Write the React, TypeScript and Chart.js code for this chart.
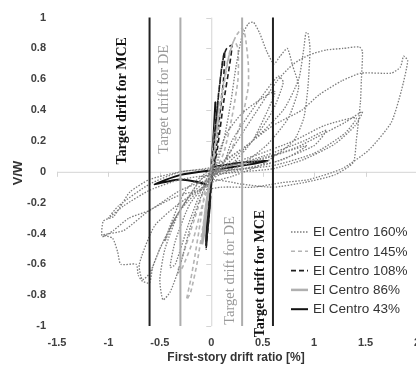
import React, { useEffect, useRef } from "react";
import { Chart, registerables } from "chart.js";
Chart.register(...registerables);

// Axis ticks
const xTicks = [-1.5, -1, -0.5, 0, 0.5, 1, 1.5, 2];
const yTicks = [1, 0.8, 0.6, 0.4, 0.2, 0, -0.2, -0.4, -0.6, -0.8, -1];

// Target drift ratios
const targetMCE = 0.6;
const targetDE = 0.3;

const seriesNames = ["El Centro 160%", "El Centro 145%", "El Centro 108%", "El Centro 86%", "El Centro 43%"];

// El Centro 160% (dotted)
const elCentro160: [number, number][] = [
  [0, 0], [0.15, 0.25], [0.3, 0.38], [0.5, 0.48], [0.62, 0.52], [0.55, 0.4], [0.4, 0.2], [0.2, 0.05], [0, -0.03],
  [-0.2, -0.15], [-0.35, -0.3], [-0.45, -0.45], [-0.4, -0.35], [-0.25, -0.12], [0, 0.02],
  [0.05, 0.05], [0.12, 0.2], [0.19, 0.45], [0.24, 0.68], [0.3, 0.88], [0.36, 0.96], [0.41, 0.97], [0.47, 0.9],
  [0.54, 0.78], [0.61, 0.7], [0.67, 0.75], [0.74, 0.8], [0.79, 0.69], [0.85, 0.55], [0.75, 0.35], [0.55, 0.18],
  [0.3, 0.05], [0, -0.05], [-0.3, -0.25], [-0.45, -0.5], [-0.5, -0.7], [-0.47, -0.83], [-0.4, -0.78],
  [-0.3, -0.6], [-0.2, -0.35], [-0.05, -0.08], [0.1, 0.05],
  [0.4, 0.2], [0.7, 0.4], [0.85, 0.6], [0.9, 0.8], [0.92, 0.9], [0.94, 0.9], [0.96, 0.8], [0.94, 0.55],
  [0.9, 0.35], [0.8, 0.2], [0.5, 0.05], [0.2, -0.03], [0, -0.07], [-0.3, -0.2], [-0.55, -0.35], [-0.7, -0.6],
  [-0.67, -0.7], [-0.6, -0.66], [-0.5, -0.5], [-0.35, -0.3], [-0.1, -0.05], [0.1, 0.05],
  [0.35, 0.3], [0.64, 0.59], [0.8, 0.7], [0.96, 0.76], [1.12, 0.79], [1.28, 0.8], [1.44, 0.81], [1.47, 0.78],
  [1.46, 0.6], [1.45, 0.45], [1.41, 0.2], [1.38, 0.06], [1.2, -0.02], [0.9, -0.07], [0.6, -0.1], [0.3, -0.08],
  [0, -0.05], [-0.3, -0.12], [-0.6, -0.25], [-0.8, -0.3], [-0.95, -0.38], [-1.06, -0.42], [-1.05, -0.32],
  [-0.95, -0.29], [-0.86, -0.2], [-0.79, -0.13], [-0.6, -0.05], [-0.3, 0.0], [0, 0.03],
  [0.3, 0.15], [0.6, 0.3], [0.88, 0.4], [1.05, 0.5], [1.27, 0.59], [1.46, 0.64], [1.75, 0.64], [1.84, 0.68],
  [1.87, 0.75], [1.91, 0.72], [1.85, 0.53], [1.75, 0.32], [1.53, 0.14], [1.27, 0.02], [0.95, -0.05],
  [0.69, -0.07], [0.4, -0.1], [0.1, -0.1], [-0.3, -0.15], [-0.6, -0.25], [-0.85, -0.38], [-1.05, -0.41],
  [-0.96, -0.43], [-0.91, -0.52], [-0.88, -0.6], [-0.73, -0.6], [-0.71, -0.67], [-0.67, -0.71], [-0.6, -0.72],
  [-0.57, -0.62], [-0.5, -0.5], [-0.35, -0.3], [-0.1, -0.05], [0.1, 0.02],
  [0.2, 0.2], [0.45, 0.45], [0.65, 0.62], [0.7, 0.58], [0.6, 0.4], [0.4, 0.2], [0.1, 0.02],
  [-0.2, -0.2], [-0.35, -0.45], [-0.4, -0.62], [-0.35, -0.6], [-0.2, -0.3], [0, 0],
  [0.4, 0.07], [0.8, 0.15], [1.1, 0.25], [1.3, 0.32], [1.47, 0.39], [1.4, 0.3], [1.2, 0.18], [0.9, 0.08],
  [0.6, 0.02], [0.3, 0.0], [0, -0.02], [-0.3, -0.05], [-0.6, -0.12], [-0.85, -0.22], [-1.0, -0.3],
  [-0.9, -0.22], [-0.6, -0.08], [-0.3, 0.0], [0, 0.02], [0.4, 0.1], [0.8, 0.2], [1.1, 0.3], [1.41, 0.35],
  [1.3, 0.25], [1.0, 0.12], [0.6, 0.04], [0.3, 0.02], [0, 0], [0.5, 0.1], [0.9, 0.2], [1.12, 0.27],
  [1.0, 0.17], [0.6, 0.06], [0.2, 0], [0, -0.02], [0.4, 0.06], [0.93, 0.17], [0.7, 0.08], [0.3, 0.02], [0, 0],
];

// El Centro 145% (light dashed)
const elCentro145: [number, number][] = [
  [0, 0], [0.06, 0.25], [0.12, 0.55], [0.18, 0.78], [0.24, 0.88], [0.3, 0.93], [0.33, 0.88], [0.36, 0.7],
  [0.36, 0.55], [0.3, 0.35], [0.2, 0.15], [0.08, 0.02], [-0.05, -0.1], [-0.1, -0.3], [-0.16, -0.55],
  [-0.2, -0.7], [-0.24, -0.83], [-0.2, -0.78], [-0.14, -0.6], [-0.08, -0.35], [-0.02, -0.08], [0.04, 0.2],
  [0.1, 0.5], [0.16, 0.72], [0.22, 0.85], [0.26, 0.8], [0.26, 0.6], [0.2, 0.35], [0.12, 0.12], [0.02, -0.02],
  [-0.08, -0.2], [-0.18, -0.45], [-0.28, -0.62], [-0.33, -0.66], [-0.28, -0.55], [-0.16, -0.3],
  [-0.04, -0.05], [0, 0],
];

// El Centro 108% (dark dashed)
const elCentro108: [number, number][] = [
  [0, 0], [0.04, 0.3], [0.08, 0.55], [0.12, 0.75], [0.15, 0.8], [0.2, 0.82], [0.18, 0.7], [0.12, 0.45],
  [0.06, 0.15], [0.02, 0], [-0.02, -0.2], [-0.04, -0.4], [-0.05, -0.5], [-0.03, -0.35], [0, -0.1],
  [0.03, 0.2], [0.07, 0.5], [0.11, 0.72], [0.13, 0.78], [0.12, 0.6], [0.08, 0.35], [0.03, 0.05], [0, 0],
];

// El Centro 86% (light solid)
const elCentro86: [number, number][] = [
  [-0.09, -0.47], [-0.05, -0.22], [0, 0], [0.04, 0.25], [0.07, 0.45], [0.05, 0.35], [0.01, 0.1],
  [-0.03, -0.15], [-0.07, -0.4], [-0.09, -0.47],
];

// El Centro 43% (dark solid)
const elCentro43: [number, number][] = [
  [-0.05, -0.48], [-0.03, -0.25], [0, 0], [0.02, 0.2], [0.04, 0.45], [0.03, 0.3], [0, 0.05], [-0.04, -0.3],
  [-0.05, -0.45], [-0.02, -0.1], [-0.3, -0.05], [-0.55, -0.08], [-0.3, -0.02], [0, 0.01], [0.3, 0.04],
  [0.55, 0.07], [0.3, 0.06], [0, 0.03],
];

const styles = [
  { color: "#7c7c7c", width: 1.3, dash: [1.5, 1.5] },
  { color: "#b4b4b4", width: 1.6, dash: [4, 3] },
  { color: "#1e1e1e", width: 1.6, dash: [5, 3] },
  { color: "#b0b0b0", width: 2.5, dash: [] as number[] },
  { color: "#111111", width: 2, dash: [] as number[] },
];

const allSeries = [elCentro160, elCentro145, elCentro108, elCentro86, elCentro43];

const overlay = {
  id: "overlay",
  beforeDatasetsDraw(chart: any) {
    const { ctx, scales } = chart;
    const xs = scales.x, ys = scales.y;
    const x0 = xs.getPixelForValue(0);
    const y0 = ys.getPixelForValue(0);
    ctx.save();
    ctx.strokeStyle = "#d4d4d4";
    ctx.lineWidth = 1;
    ctx.beginPath();
    ctx.moveTo(xs.left, y0 + 0.5);
    ctx.lineTo(xs.right, y0 + 0.5);
    ctx.moveTo(x0 + 0.5, ys.top);
    ctx.lineTo(x0 + 0.5, ys.bottom);
    for (const v of xTicks) {
      const px = Math.round(xs.getPixelForValue(v)) + 0.5;
      ctx.moveTo(px, y0);
      ctx.lineTo(px, y0 + 5);
    }
    for (const v of yTicks) {
      const py = Math.round(ys.getPixelForValue(v)) + 0.5;
      ctx.moveTo(x0 - 5, py);
      ctx.lineTo(x0, py);
    }
    ctx.stroke();
    ctx.restore();
  },
  afterDatasetsDraw(chart: any) {
    const { ctx, scales } = chart;
    const xs = scales.x, ys = scales.y;
    ctx.save();
    // target lines
    const lines = [
      { v: -targetMCE, c: "#222222" },
      { v: targetMCE, c: "#222222" },
      { v: -targetDE, c: "#adadad" },
      { v: targetDE, c: "#adadad" },
    ];
    for (const l of lines) {
      const px = xs.getPixelForValue(l.v);
      ctx.strokeStyle = l.c;
      ctx.lineWidth = 2;
      ctx.beginPath();
      ctx.moveTo(px, ys.top);
      ctx.lineTo(px, ys.bottom);
      ctx.stroke();
    }
    const vtext = (t: string, x: number, y: number, font: string, color: string) => {
      ctx.save();
      ctx.translate(x, y);
      ctx.rotate(-Math.PI / 2);
      ctx.font = font;
      ctx.fillStyle = color;
      ctx.textAlign = "center";
      ctx.textBaseline = "middle";
      ctx.fillText(t, 0, 0);
      ctx.restore();
    };
    const mceFont = 'bold 14px "Liberation Serif"';
    const deFont = '14.5px "Liberation Serif"';
    vtext("Target drift for MCE", xs.getPixelForValue(-targetMCE) - 27, ys.getPixelForValue(0.46), mceFont, "#111");
    vtext("Target drift for DE", xs.getPixelForValue(-targetDE) - 16, ys.getPixelForValue(0.47), deFont, "#999");
    vtext("Target drift for DE", xs.getPixelForValue(targetDE) - 12, ys.getPixelForValue(-0.64), deFont, "#999");
    vtext("Target drift for MCE", xs.getPixelForValue(targetMCE) - 13, ys.getPixelForValue(-0.66), mceFont, "#111");

    // legend
    const lx = 291, ly = 232, step = 19.3;
    seriesNames.forEach((name, i) => {
      const s = styles[i];
      const y = ly + i * step;
      ctx.strokeStyle = s.color;
      ctx.lineWidth = s.width;
      ctx.setLineDash(s.dash);
      ctx.beginPath();
      ctx.moveTo(lx, y);
      ctx.lineTo(lx + 17, y);
      ctx.stroke();
      ctx.setLineDash([]);
      ctx.font = '13.5px "Liberation Sans"';
      ctx.fillStyle = "#333";
      ctx.textAlign = "left";
      ctx.textBaseline = "middle";
      ctx.fillText(name, lx + 22, y + 0.5);
    });

    // axis titles
    ctx.fillStyle = "#333";
    ctx.font = 'bold 12px "Liberation Sans"';
    ctx.textAlign = "center";
    ctx.textBaseline = "middle";
    ctx.fillText("First-story drift ratio [%]", 236, 358);
    vtext("V/W", 18, 173, 'bold 13px "Liberation Sans"', "#333");
    ctx.restore();
  },
};

export default function App() {
  const ref = useRef<HTMLCanvasElement>(null);
  useEffect(() => {
    if (!ref.current) return;
    const chart = new Chart(ref.current, {
      type: "scatter",
      data: {
        datasets: allSeries.map((s, i) => ({
          label: seriesNames[i],
          data: s.map(([x, y]) => ({ x, y })),
          showLine: true,
          borderColor: styles[i].color,
          borderWidth: styles[i].width,
          borderDash: styles[i].dash,
          pointRadius: 0,
          tension: 0.2,
          fill: false,
        })),
      },
      options: {
        animation: false,
        responsive: false,
        layout: { padding: { top: 13, right: 11, left: 0, bottom: 0 } },
        plugins: { legend: { display: false }, tooltip: { enabled: false } },
        scales: {
          x: {
            type: "linear",
            min: -1.5,
            max: 2,
            afterBuildTicks: (s: any) => { s.ticks = xTicks.map((v) => ({ value: v })); },
            afterFit: (s: any) => { s.height = 42; },
            grid: { display: false, drawTicks: false },
            border: { display: false },
            ticks: {
              padding: 10,
              color: "#404040",
              font: { family: "Liberation Sans", size: 11, weight: "bold" },
              callback: (v: any) => String(v),
            },
          },
          y: {
            type: "linear",
            min: -1,
            max: 1,
            afterBuildTicks: (s: any) => { s.ticks = yTicks.map((v) => ({ value: v })); },
            afterFit: (s: any) => { s.width = 57; },
            grid: { display: false, drawTicks: false },
            border: { display: false },
            ticks: {
              padding: 11,
              color: "#404040",
              font: { family: "Liberation Sans", size: 11, weight: "bold" },
              callback: (v: any) => String(v),
            },
          },
        },
      },
      plugins: [overlay],
    });
    return () => chart.destroy();
  }, []);
  return (
    <div style={{ position: "fixed", left: 0, top: 0, width: 416, height: 368, overflow: "hidden", background: "#fff" }}>
      <canvas ref={ref} width={430} height={368} style={{ width: 430, height: 368, display: "block" }} />
    </div>
  );
}
